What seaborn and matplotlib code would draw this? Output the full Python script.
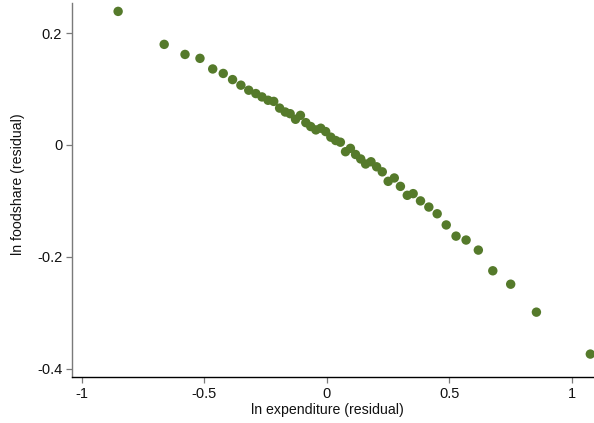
import matplotlib
matplotlib.use("Agg")
import matplotlib.pyplot as plt
import seaborn as sns
import pandas as pd

# binned residuals
ln_expenditure = [-0.851, -0.663, -0.578, -0.517, -0.465, -0.422, -0.384, -0.350, -0.318, -0.289,
                  -0.264, -0.239, -0.216, -0.192, -0.169, -0.149, -0.127, -0.107, -0.085, -0.065,
                  -0.044, -0.024, -0.004, 0.017, 0.037, 0.056, 0.077, 0.097, 0.118, 0.139,
                  0.159, 0.181, 0.204, 0.227, 0.251, 0.276, 0.301, 0.329, 0.353, 0.383,
                  0.417, 0.451, 0.488, 0.528, 0.569, 0.619, 0.678, 0.751, 0.856, 1.076]
ln_foodshare = [0.239, 0.180, 0.162, 0.155, 0.136, 0.128, 0.117, 0.107, 0.098, 0.092,
                0.086, 0.080, 0.078, 0.066, 0.059, 0.056, 0.046, 0.053, 0.040, 0.033,
                0.027, 0.030, 0.024, 0.014, 0.008, 0.005, -0.012, -0.006, -0.017, -0.025,
                -0.034, -0.030, -0.039, -0.048, -0.065, -0.059, -0.074, -0.090, -0.087, -0.100,
                -0.111, -0.123, -0.143, -0.163, -0.170, -0.188, -0.225, -0.249, -0.299, -0.374]
x_ticks = [-1, -0.5, 0, 0.5, 1]
x_ticklabels = ["-1", "-0.5", "0", "0.5", "1"]
y_ticks = [-0.4, -0.2, 0, 0.2]
y_ticklabels = ["-0.4", "-0.2", "0", "0.2"]

df = pd.DataFrame({"x": ln_expenditure, "y": ln_foodshare})

sns.set_style("white")
plt.rcParams["font.family"] = ["Liberation Sans", "DejaVu Sans"]

fig = plt.figure(figsize=(5.94, 4.23), dpi=100)
ax = fig.add_axes([72.3 / 594, 46 / 423, 1 - 72.3 / 594, (377 - 3) / 423])

sns.scatterplot(data=df, x="x", y="y", ax=ax, color="#557a2b", s=46,
                edgecolor="none", linewidth=0, clip_on=False, zorder=3)

ax.set_xlim(-1.038, 1.091)
ax.set_ylim(-0.415, 0.254)
ax.set_xticks(x_ticks)
ax.set_xticklabels(x_ticklabels)
ax.set_yticks(y_ticks)
ax.set_yticklabels(y_ticklabels)

for s in ["top", "right"]:
    ax.spines[s].set_visible(False)
ax.spines["left"].set_color("#7a7a7a")
ax.spines["left"].set_linewidth(1.0)
ax.spines["bottom"].set_color("#000000")
ax.spines["bottom"].set_linewidth(1.0)

ax.tick_params(axis="both", which="major", direction="out", length=4.3, width=0.9,
               color="#7a7a7a", labelsize=10.5, labelcolor="#111111", pad=3,
               left=True, bottom=True)

ax.set_xlabel("ln expenditure (residual)", fontsize=10.2, color="#111111")
ax.set_ylabel("ln foodshare (residual)", fontsize=10.2, color="#111111")
ax.xaxis.set_label_coords((327.5 - 72.3) / (594 - 72.3), -(410 - 377) / 374)
ax.yaxis.set_label_coords(-(72.3 - 18) / (594 - 72.3), (377 - 184) / 374)
ax.xaxis.label.set_va("center")
ax.yaxis.label.set_va("center")
ax.grid(False)

fig.savefig("out.png", dpi=100)
